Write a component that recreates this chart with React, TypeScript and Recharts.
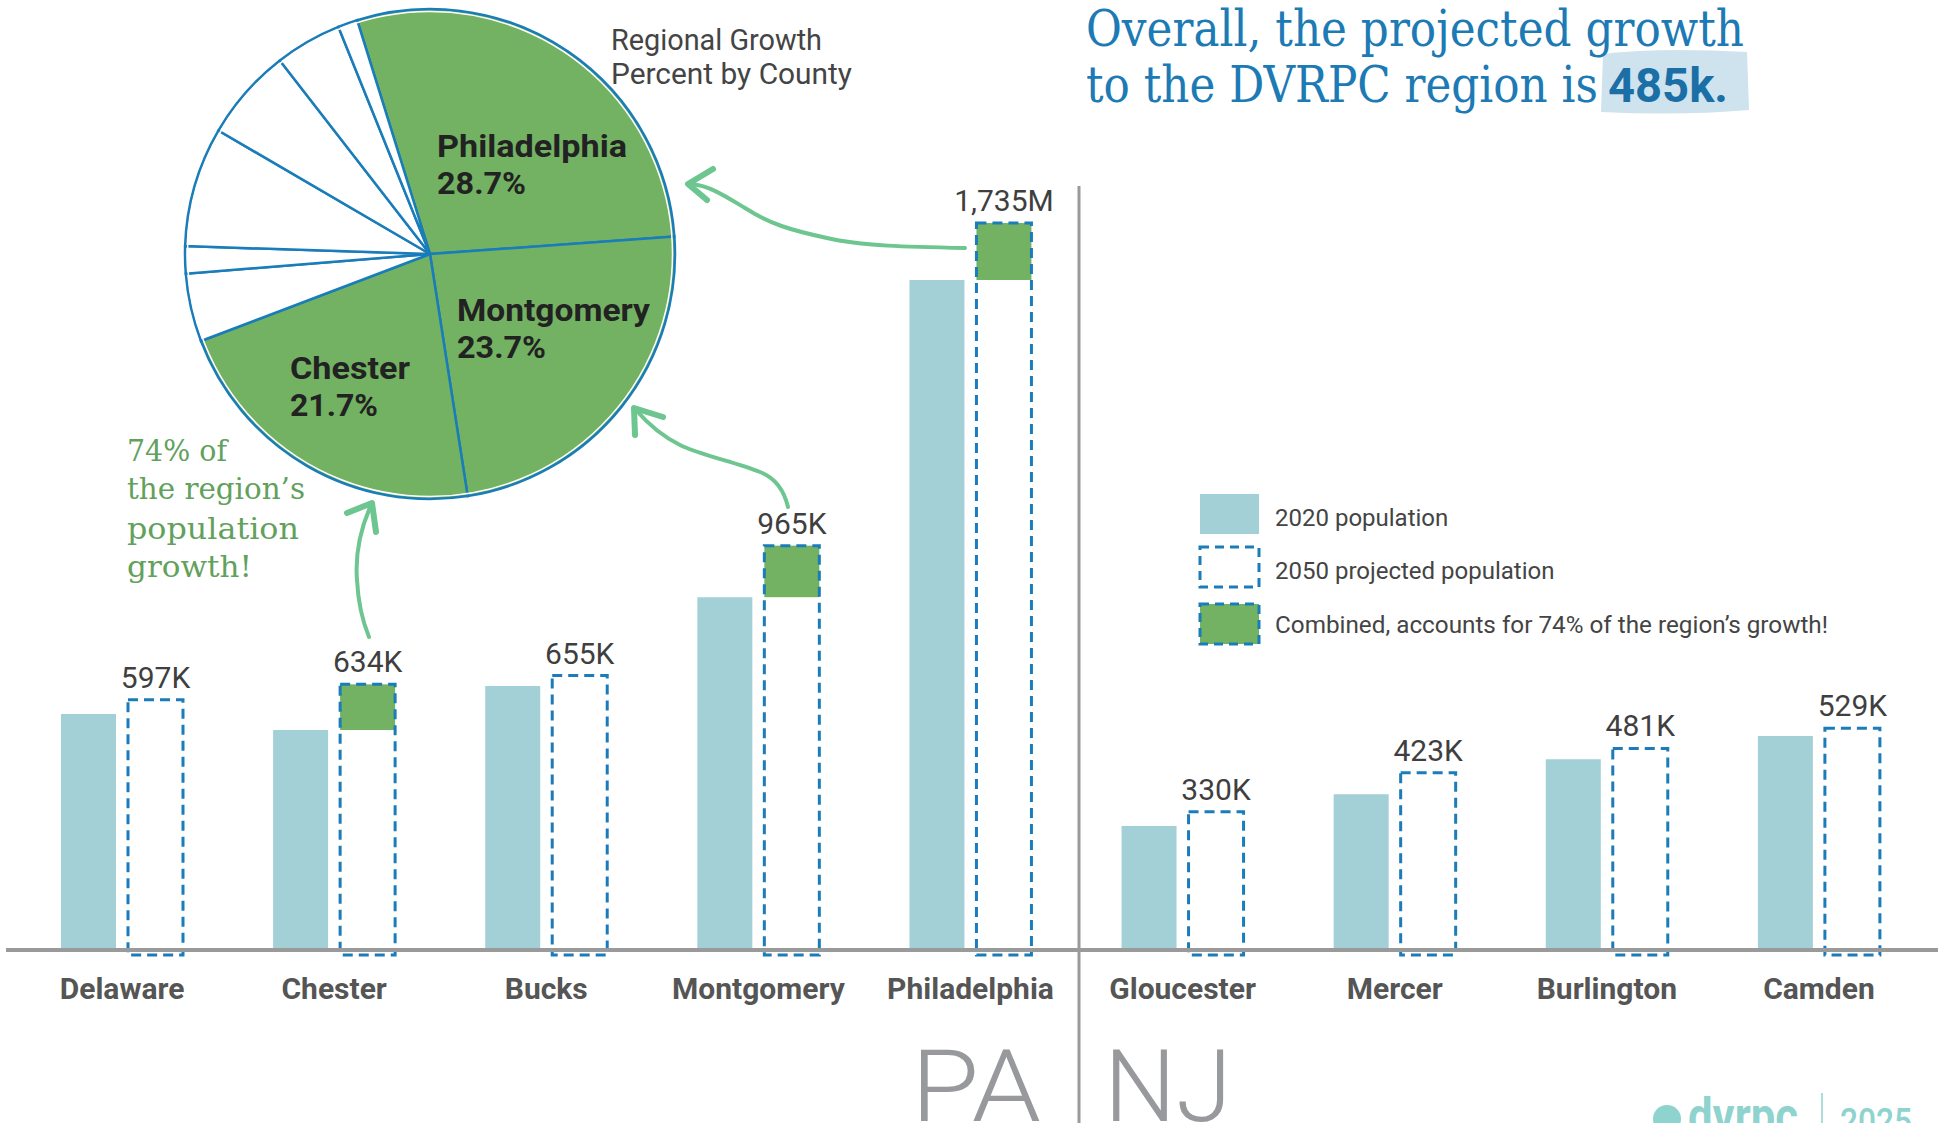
import React from "react";
import {
  BarChart,
  Bar,
  XAxis,
  YAxis,
  LabelList,
  Legend,
  PieChart,
  Pie,
  Cell,
} from "recharts";

// population by county, thousands
const counties = [
  "Delaware",
  "Chester",
  "Bucks",
  "Montgomery",
  "Philadelphia",
  "Gloucester",
  "Mercer",
  "Burlington",
  "Camden",
];
const pop2020 = [563, 525, 630, 842, 1599, 296, 372, 455, 511];
const pop2050 = [597, 634, 655, 965, 1735, 330, 423, 481, 529];
const labels2050 = ["597K", "634K", "655K", "965K", "1,735M", "330K", "423K", "481K", "529K"];
const highlighted = ["Chester", "Montgomery", "Philadelphia"];

// share of regional growth, percent
const pieCounties = [
  "Philadelphia",
  "Montgomery",
  "Chester",
  "Delaware",
  "Bucks",
  "Mercer",
  "Gloucester",
  "Burlington",
  "Camden",
];
const pieShares = [28.7, 23.7, 21.7, 4.5, 1.8, 7.9, 6.1, 4.4, 1.3];

const TEAL = "#a3d0d7";
const BLUE = "#1a7db9";
const GREEN = "#72b262";
const MINT = "#6dc590";
const GREY = "#9a9a9a";

const barData = counties.map((c, i) => ({
  county: c,
  pop2020: pop2020[i],
  pop2050: pop2050[i],
  label: labels2050[i],
}));

const pieData = pieCounties.map((c, i) => ({ name: c, value: pieShares[i] }));

const ProjectedBar = (props: any) => {
  const { x, y, width, height, payload } = props;
  const hl = highlighted.includes(payload.county);
  const growthH = (height * (payload.pop2050 - payload.pop2020)) / payload.pop2050;
  return (
    <g>
      {hl && <rect x={x} y={y} width={width} height={growthH} fill={GREEN} />}
      <rect
        x={x}
        y={y}
        width={width}
        height={height + 5}
        fill="none"
        stroke={BLUE}
        strokeWidth={3}
        strokeDasharray="10 6"
      />
    </g>
  );
};

const LegendBox = () => (
  <svg width={740} height={170}>
    <rect x={6} y={6} width={59} height={40} fill={TEAL} />
    <text x={81} y={38} fontSize={24} fill="#444">2020 population</text>
    <rect x={6} y={59} width={59} height={40} fill="none" stroke={BLUE} strokeWidth={3} strokeDasharray="9 6" />
    <text x={81} y={91} fontSize={24} fill="#444">2050 projected population</text>
    <rect x={6} y={116} width={59} height={40} fill={GREEN} stroke={BLUE} strokeWidth={3} strokeDasharray="9 6" />
    <text x={81} y={145} fontSize={24} fill="#444" textLength={553} lengthAdjust="spacingAndGlyphs">
      Combined, accounts for 74% of the region’s growth!
    </text>
  </svg>
);

const App: React.FC = () => {
  return (
    <div
      style={{
        position: "absolute",
        left: 0,
        top: 0,
        width: 1942,
        height: 1123,
        overflow: "hidden",
        background: "#fff",
        fontFamily: "Roboto, sans-serif",
      }}
    >
      <BarChart
        width={1942}
        height={1123}
        data={barData}
        margin={{ top: 112, right: 4, left: 6, bottom: 143 }}
        barSize={55}
        barGap={12}
        style={{ position: "absolute", left: 0, top: 0 }}
      >
        <XAxis
          dataKey="county"
          height={30}
          padding={{ left: 10, right: 13 }}
          axisLine={{ stroke: GREY, strokeWidth: 4 }}
          tickLine={false}
          tickMargin={22}
          interval={0}
          tick={{ fill: "#555", fontSize: 30, fontWeight: 700, fontFamily: "Roboto" }}
        />
        <YAxis hide domain={[0, 2000]} />
        <Legend
          layout="vertical"
          align="center"
          verticalAlign="middle"
          content={LegendBox}
          wrapperStyle={{ left: 1194, top: 488, width: 740 }}
        />
        <Bar dataKey="pop2020" fill={TEAL} isAnimationActive={false} />
        <Bar dataKey="pop2050" shape={ProjectedBar} isAnimationActive={false}>
          <LabelList dataKey="label" position="top" offset={12} fontSize={30} fill="#3f3f3f" fontFamily="Roboto" />
        </Bar>
      </BarChart>

      <PieChart
        width={1942}
        height={1123}
        margin={{ top: 0, right: 0, bottom: 0, left: 0 }}
        style={{ position: "absolute", left: 0, top: 0 }}
      >
        <Pie
          data={pieData}
          dataKey="value"
          nameKey="name"
          cx={430}
          cy={254}
          outerRadius={245}
          startAngle={107.3}
          endAngle={107.3 - 360}
          stroke={BLUE}
          strokeWidth={2.5}
          isAnimationActive={false}
          label={false}
          labelLine={false}
        >
          {pieData.map((d) => (
            <Cell key={d.name} fill={highlighted.includes(d.name) ? GREEN : "#fff"} />
          ))}
        </Pie>
      </PieChart>

      <svg width={1942} height={1123} style={{ position: "absolute", left: 0, top: 0, pointerEvents: "none" }}>
        {/* pie inner white rim */}
        <circle cx={430} cy={254} r={242.5} fill="none" stroke="#fff" strokeWidth={1.5} />

        {/* pie labels */}
        <g fontFamily="Roboto" fontWeight={700} fontSize={31} fill="#222">
          <text x={437} y={157} textLength={190} lengthAdjust="spacingAndGlyphs">Philadelphia</text>
          <text x={437} y={194} textLength={89} lengthAdjust="spacingAndGlyphs">28.7%</text>
          <text x={457} y={321} textLength={193} lengthAdjust="spacingAndGlyphs">Montgomery</text>
          <text x={457} y={358} textLength={89} lengthAdjust="spacingAndGlyphs">23.7%</text>
          <text x={290} y={379} textLength={120} lengthAdjust="spacingAndGlyphs">Chester</text>
          <text x={290} y={416} textLength={88} lengthAdjust="spacingAndGlyphs">21.7%</text>
        </g>

        {/* pie title */}
        <g fontFamily="Roboto" fontSize={30} fill="#444" style={{ whiteSpace: "pre" }}>
          <text x={611} y={50} textLength={211} lengthAdjust="spacingAndGlyphs">Regional Growth</text>
          <text x={611} y={84} textLength={241} lengthAdjust="spacingAndGlyphs">Percent  by County</text>
        </g>

        {/* headline */}
        <path
          d="M1603 54 Q1660 47 1747 52 L1749 110 Q1680 116 1601 112 Z"
          fill="#cfe3ee"
        />
        <g fontFamily="DejaVu Serif" fontSize={50} fill="#1c7ab4">
          <text x={1086} y={46} textLength={658} lengthAdjust="spacingAndGlyphs">Overall, the projected growth</text>
          <text x={1086} y={102} textLength={512} lengthAdjust="spacingAndGlyphs">to the DVRPC region is</text>
        </g>
        <text x={1608} y={102} fontFamily="Roboto" fontWeight={700} fontSize={48} fill="#1a6fa6" textLength={120} lengthAdjust="spacingAndGlyphs">
          485k.
        </text>

        {/* green note */}
        <g fontFamily="DejaVu Serif" fontSize={29} fill="#62a15c">
          <text x={127} y={461} textLength={100} lengthAdjust="spacingAndGlyphs">74% of</text>
          <text x={127} y={499} textLength={178} lengthAdjust="spacingAndGlyphs">the region’s</text>
          <text x={127} y={539} textLength={172} lengthAdjust="spacingAndGlyphs">population</text>
          <text x={127} y={577} textLength={125} lengthAdjust="spacingAndGlyphs">growth!</text>
        </g>

        {/* arrows */}
        <g fill="none" stroke={MINT} strokeLinecap="round" strokeLinejoin="round">
          <path d="M965 248 C910 247 860 246 827 238 C790 230 770 224 745 208 C725 196 710 186 692 184" strokeWidth={4} />
          <path d="M713 169 L688 184 L707 200" strokeWidth={6} />
          <path d="M788 507 C784 490 776 478 760 472 C735 462 700 455 680 445 C660 435 648 424 636 410" strokeWidth={4} />
          <path d="M663 417 L634 408 L635 435" strokeWidth={6} />
          <path d="M369 637 C362 620 358 600 357 580 C355 555 360 530 371 505" strokeWidth={4} />
          <path d="M347 513 L372 503 L376 532" strokeWidth={6} />
        </g>

        {/* state divider */}
        <line x1={1079} y1={186} x2={1079} y2={1123} stroke={GREY} strokeWidth={3} />
        <g fontFamily="Roboto" fontWeight={300} fontSize={100} fill="#98999c">
          <text x={911} y={1121} textLength={130} lengthAdjust="spacingAndGlyphs">PA</text>
          <text x={1104} y={1121} textLength={128} lengthAdjust="spacingAndGlyphs">NJ</text>
        </g>

        {/* logo */}
        <circle cx={1667} cy={1119} r={14} fill="#8fd3cf" />
        <text x={1688} y={1133} fontFamily="Roboto" fontWeight={700} fontSize={50} fill="#8fd3cf" textLength={110} lengthAdjust="spacingAndGlyphs">
          dvrpc
        </text>
        <line x1={1822} y1={1093} x2={1822} y2={1123} stroke="#8fd3cf" strokeWidth={1.5} />
        <text x={1840} y={1134} fontFamily="Roboto" fontWeight={500} fontSize={36} fill="#8fd3cf" textLength={72} lengthAdjust="spacingAndGlyphs">
          2025
        </text>
      </svg>
    </div>
  );
};

export default App;
